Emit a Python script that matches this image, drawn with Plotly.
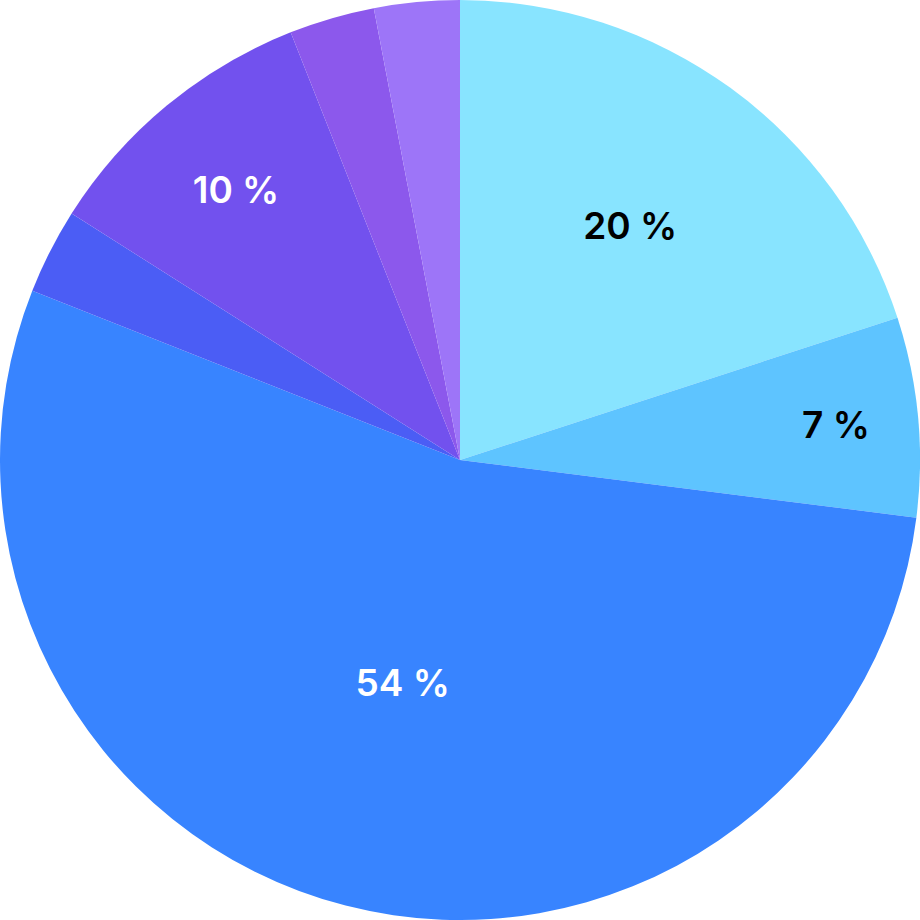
import plotly.graph_objects as go

categories = ["A", "B", "C", "D", "E", "F", "G"]
values = [20, 7, 54, 3, 10, 3, 3]
labels_text = ["20 %", "7 %", "54 %", "", "10 %", "", ""]
colors = ["#88E4FF", "#5EC4FF", "#3884FF", "#4B5DF5", "#7251EE", "#8C58EC", "#9D75F8"]
text_colors = ["#000000", "#000000", "#FFFFFF", "#FFFFFF", "#FFFFFF", "#FFFFFF", "#FFFFFF"]

fig = go.Figure(go.Pie(
    labels=categories,
    values=values,
    text=labels_text,
    textinfo="text",
    textposition="inside",
    insidetextorientation="horizontal",
    sort=False,
    direction="clockwise",
    rotation=0,
    marker=dict(colors=colors, line=dict(width=0)),
    insidetextfont=dict(family="Inter", size=37, color=text_colors, weight=600),
    hoverinfo="skip",
    showlegend=False,
))
fig.update_layout(
    width=920, height=920,
    margin=dict(l=0, r=0, t=0, b=0),
    paper_bgcolor="white",
    uniformtext=dict(minsize=37, mode="show"),
)
fig.write_html(
    "out.html",
    config={"displayModeBar": False, "staticPlot": True},
    post_script="document.body.style.margin='0';document.body.style.overflow='hidden';",
)
